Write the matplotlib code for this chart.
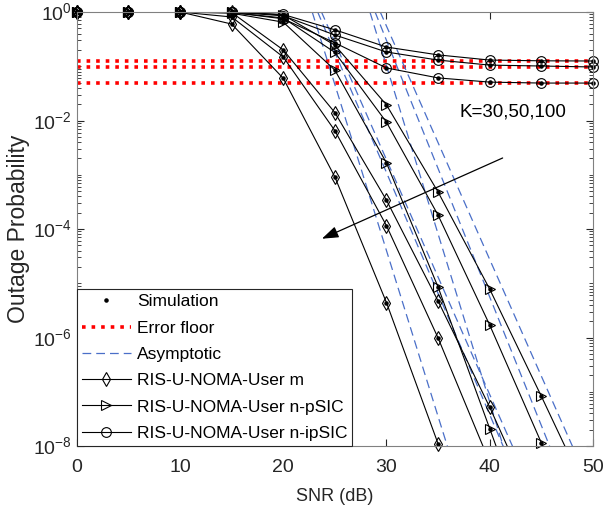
import numpy as np
import matplotlib
matplotlib.use("Agg")
import matplotlib.pyplot as plt
from matplotlib.ticker import LogLocator, NullFormatter
from matplotlib.lines import Line2D

plt.rcParams['font.family'] = ['Liberation Sans', 'DejaVu Sans']
plt.rcParams['mathtext.fontset'] = 'custom'
plt.rcParams['mathtext.rm'] = 'Liberation Sans'

# SNR grid (dB)
snr = [0, 5, 10, 15, 20, 25, 30, 35, 40, 45, 50]
k_values = [30, 50, 100]

# outage probability
user_m = {
    30: [1, 1, 1, 0.98, 0.20, 1.4e-2, 3.4e-4, 4.7e-6, 5.2e-8, 4e-10, np.nan],
    50: [1, 1, 1, 0.81, 0.148, 6.5e-3, 1.15e-4, 9.8e-7, 5e-9, np.nan, np.nan],
    100: [1, 1, 1, 0.60, 0.060, 9.1e-4, 4.4e-6, 1.1e-8, 3e-11, np.nan, np.nan],
}
user_n_psic = {
    30: [1, 1, 1, 1.0, 0.88, 0.245, 1.94e-2, 4.8e-4, 7.8e-6, 8.3e-8, 8e-10],
    50: [1, 1, 1, 0.98, 0.775, 0.18, 9.3e-3, 1.8e-4, 1.7e-6, 1.15e-8, 6e-11],
    100: [1, 1, 1, 0.95, 0.65, 0.085, 1.65e-3, 8.5e-6, 2.1e-8, 5e-11, np.nan],
}
user_n_ipsic = {
    30: [1, 1, 1, 1.0, 0.90, 0.47, 0.226, 0.162, 0.130, 0.126, 0.125],
    50: [1, 1, 1, 1.0, 0.85, 0.377, 0.183, 0.130, 0.105, 0.101, 0.097],
    100: [1, 1, 1, 0.98, 0.75, 0.27, 0.093, 0.061, 0.051, 0.049, 0.049],
}
error_floor = [0.125, 0.097, 0.049]

# asymptotic curves on the same grid
asym_m = {
    30: [np.nan, np.nan, np.nan, np.nan, 40, 0.275, 1.9e-3, 1.3e-5, 8.9e-8, 6.2e-10, np.nan],
    50: [np.nan, np.nan, np.nan, np.nan, 31, 0.18, 1.1e-3, 6.5e-6, 3.8e-8, 2.2e-10, np.nan],
    100: [np.nan, np.nan, np.nan, np.nan, 51, 4.6e-2, 4.0e-5, 3.5e-8, 3.2e-11, np.nan, np.nan],
}
asym_psic = {
    30: [np.nan, np.nan, np.nan, np.nan, np.nan, 78, 0.55, 3.9e-3, 2.75e-5, 1.95e-7, 1.4e-9],
    50: [np.nan, np.nan, np.nan, np.nan, np.nan, 71, 0.30, 1.3e-3, 5.6e-6, 2.4e-8, 1.0e-10],
    100: [np.nan, np.nan, np.nan, np.nan, np.nan, 126, 0.102, 8.1e-5, 6.5e-8, 5e-11, np.nan],
}

blue = '#4a6fc8'
ymin, ymax = 1e-8, 1

fig = plt.figure(figsize=(6.05, 5.13), dpi=100)
ax = fig.add_axes([0.127, 0.1306, 0.853, 0.846])

for y in error_floor:
    ax.plot([snr[0], snr[-1]], [y, y], ':', color='red', lw=2.6)

for k in k_values:
    ax.plot(snr, asym_m[k], '--', color=blue, lw=0.9, dashes=(7, 4))
    ax.plot(snr, asym_psic[k], '--', color=blue, lw=0.9, dashes=(7, 4))

mk = dict(color='black', lw=0.8, mfc='none', mec='black', mew=0.8)
for k in k_values:
    for series, m in ((user_m, 'd'), (user_n_psic, '>'), (user_n_ipsic, 'o')):
        vals = np.array(series[k], dtype=float)
        ax.plot(snr, vals, '-', color='black', lw=0.8)
        # markers are not clipped at the top edge (as in MATLAB)
        shown = np.where(vals >= ymin * 0.97, vals, np.nan)
        ax.plot(snr, shown, ls='none', marker=m, ms=7, mfc='none', mec='black',
                mew=0.8, clip_on=False)
        ax.plot(snr, shown, ls='none', marker='.', color='black', ms=4.5, clip_on=False)

ax.set_yscale('log')
ax.set_xlim(0, 50)
ax.set_ylim(ymin, ymax)
ax.set_xticks([0, 10, 20, 30, 40, 50])
ax.set_yticks([1e-8, 1e-6, 1e-4, 1e-2, 1])
ax.set_yticklabels(['$10^{-8}$', '$10^{-6}$', '$10^{-4}$', '$10^{-2}$', '$10^{0}$'])
ax.yaxis.set_minor_locator(LogLocator(base=10, subs=np.arange(1, 10), numticks=40))
ax.yaxis.set_minor_formatter(NullFormatter())
ax.tick_params(which='both', direction='in', top=True, right=True, colors='#262626',
               labelcolor='#262626', labelsize=14)
ax.tick_params(axis='x', pad=9)
ax.tick_params(which='major', length=5)
ax.tick_params(which='minor', length=3)
for s in ax.spines.values():
    s.set_color('#808080')
    s.set_linewidth(0.8)

ax.set_xlabel('SNR (dB)', fontsize=13, color='#262626', labelpad=9)
ax.set_ylabel('Outage Probability', fontsize=16.5, color='#262626', labelpad=2)

ax.annotate('', xy=(23.5, 10**-4.2), xytext=(41.5, 10**-2.67),
            arrowprops=dict(arrowstyle='-|>,head_length=1.0,head_width=0.35',
                            color='black', lw=0.9))
ax.text(37.1, 10**-1.84, 'K=30,50,100', fontsize=13.5, va='center', ha='left')

handles = [
    Line2D([], [], ls='none', marker='.', color='black', ms=4.5),
    Line2D([], [], ls=':', color='red', lw=2.6),
    Line2D([], [], ls='--', color=blue, lw=0.9, dashes=(7, 4)),
    Line2D([], [], marker='d', ms=7, **mk),
    Line2D([], [], marker='>', ms=7, **mk),
    Line2D([], [], marker='o', ms=7, **mk),
]
labels = ['Simulation', 'Error floor', 'Asymptotic', 'RIS-U-NOMA-User m',
          'RIS-U-NOMA-User n-pSIC', 'RIS-U-NOMA-User n-ipSIC']
leg = ax.legend(handles, labels, loc='lower left', fontsize=12.5, frameon=True,
                fancybox=False, edgecolor='#262626', framealpha=1,
                borderaxespad=0, handlelength=2.8, labelspacing=0.64,
                borderpad=0.3, handletextpad=0.35)
leg.get_frame().set_linewidth(0.8)

fig.savefig('out.png', dpi=100)
